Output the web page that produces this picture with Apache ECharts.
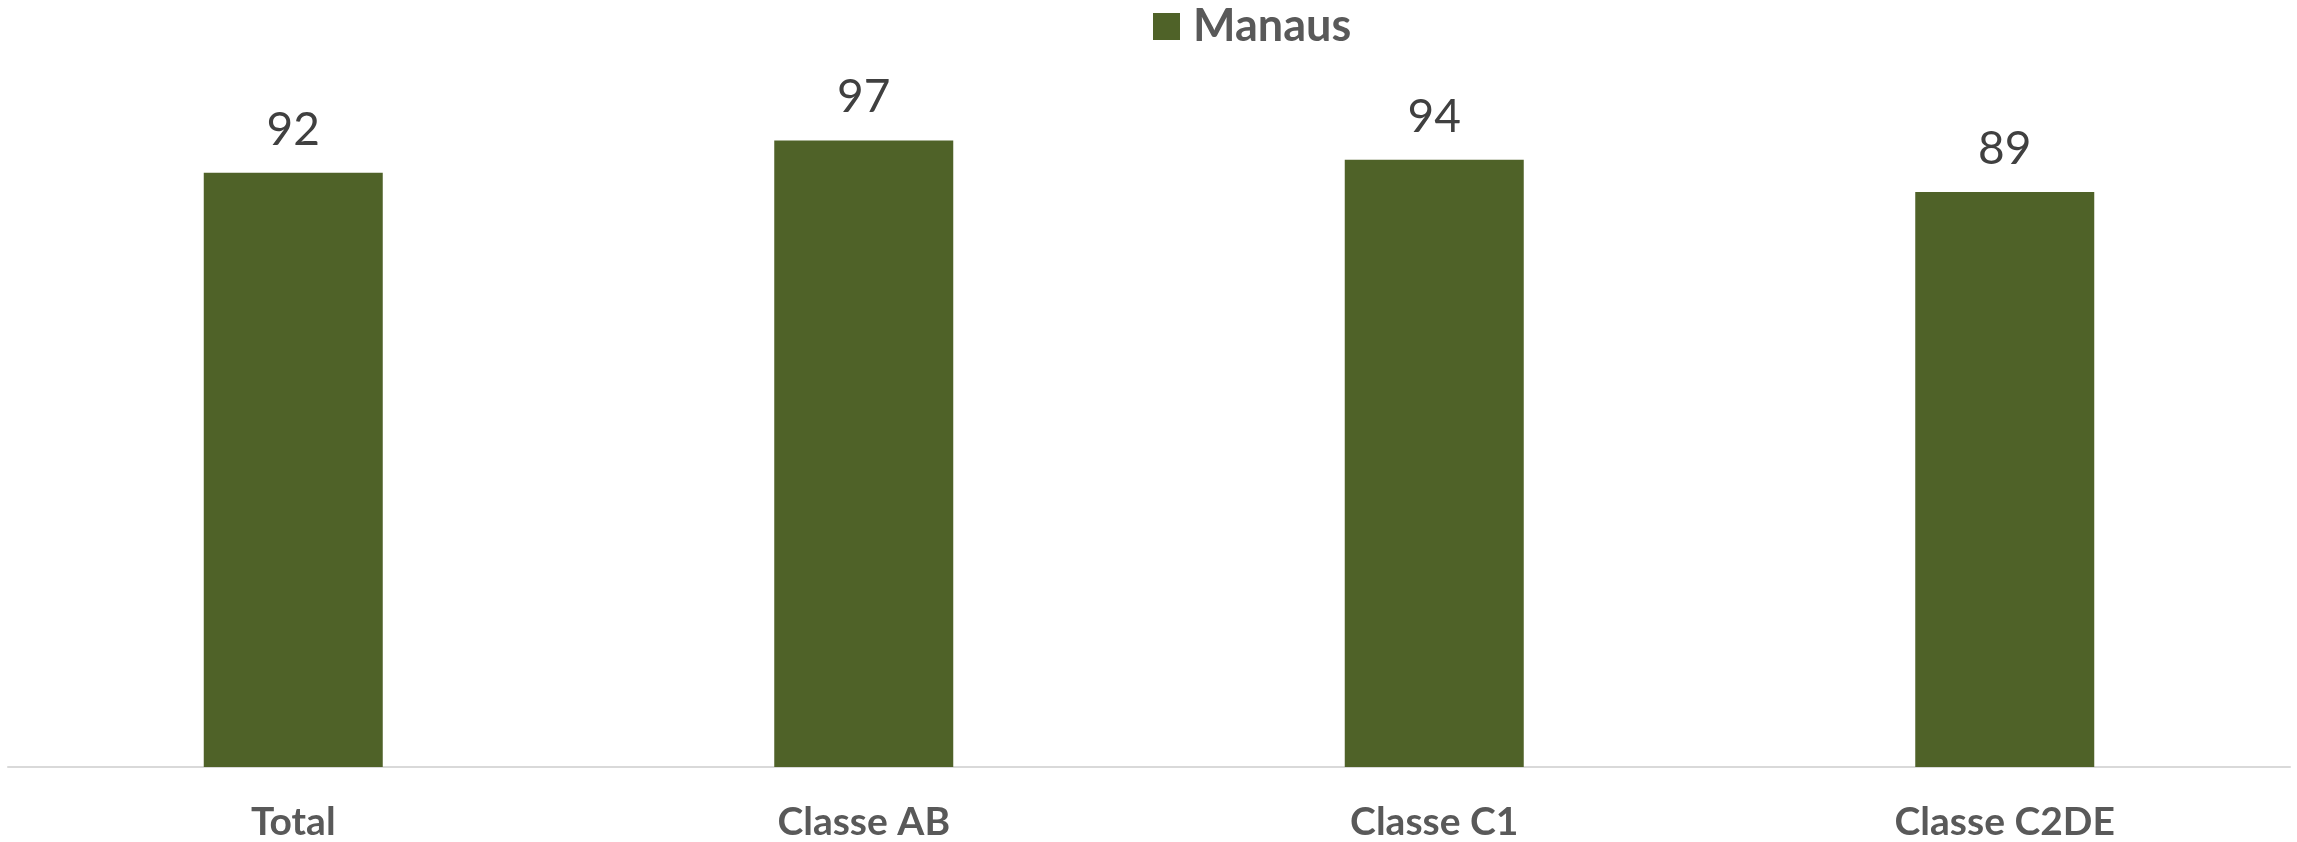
<!DOCTYPE html>
<html>
<head>
<meta charset="utf-8">
<script src="https://cdn.jsdelivr.net/npm/echarts@6/dist/echarts.min.js"></script>
<style>
  html, body { margin: 0; padding: 0; background: #fff; }
  #main { width: 2297px; height: 842px; }
</style>
</head>
<body>
<div id="main"></div>
<script>
var categories = ['Total', 'Classe AB', 'Classe C1', 'Classe C2DE'];
var manaus = [92, 97, 94, 89];

var chart = echarts.init(document.getElementById('main'));

var option = {
    animation: false,
    textStyle: { fontFamily: 'Lato' },
    legend: {
        top: 4,
        left: 1153,
        padding: 0,
        itemWidth: 27,
        itemHeight: 27,
        itemGap: 12,
        icon: 'rect',
        textStyle: {
            fontSize: 45,
            fontWeight: 'bold',
            color: '#595959',
            fontFamily: 'Lato',
            padding: [0, 0, 0, 8]
        },
        data: ['Manaus']
    },
    grid: {
        left: 8,
        right: 7,
        top: 121,
        bottom: 74,
        containLabel: false
    },
    xAxis: {
        type: 'category',
        data: categories,
        axisLine: { lineStyle: { color: '#D9D9D9', width: 2 } },
        axisTick: { show: false },
        axisLabel: {
            margin: 36,
            fontSize: 39,
            fontWeight: 'bold',
            color: '#595959',
            fontFamily: 'Lato'
        }
    },
    yAxis: {
        type: 'value',
        min: 0,
        max: 100,
        show: false,
        splitLine: { show: false }
    },
    series: [
        {
            name: 'Manaus',
            type: 'bar',
            data: manaus,
            barWidth: 179,
            itemStyle: { color: '#4F6228' },
            label: {
                show: true,
                position: 'top',
                distance: 20,
                fontSize: 46,
                color: '#404040',
                fontFamily: 'Lato'
            }
        }
    ]
};

chart.setOption(option);
</script>
</body>
</html>
